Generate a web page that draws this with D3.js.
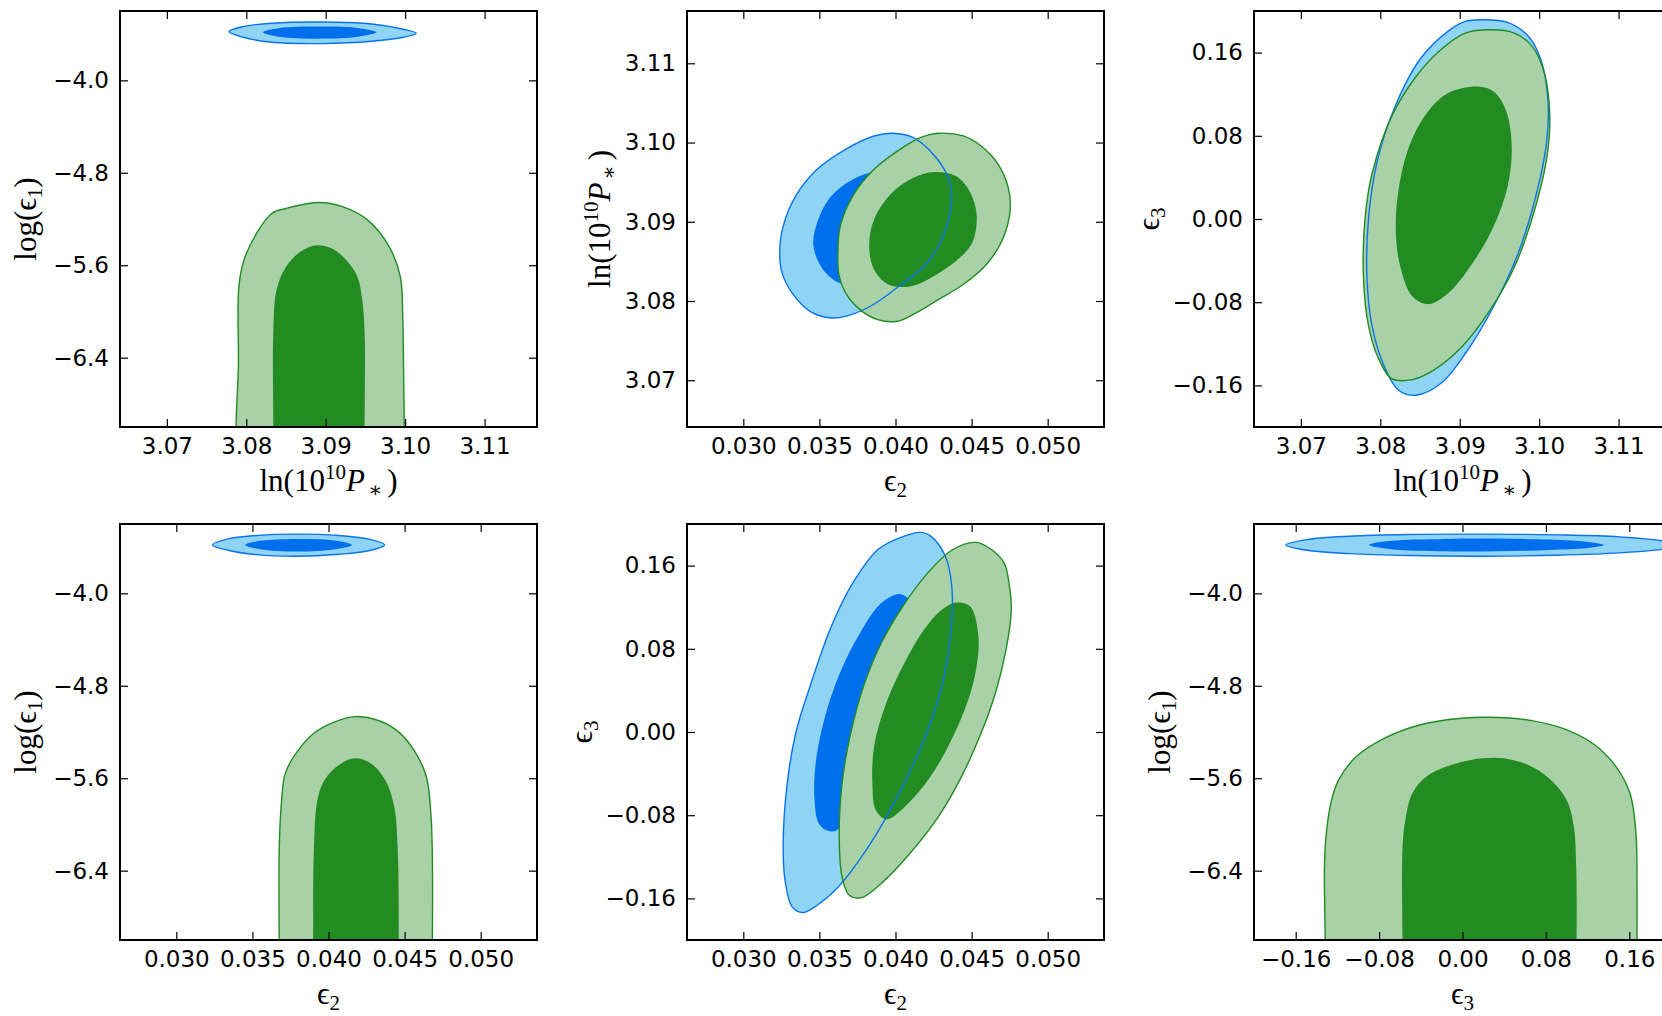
<!DOCTYPE html>
<html lang="en">
<head>
<meta charset="UTF-8" />
<title>2D marginal contours</title>
<script src="https://d3js.org/d3.v7.min.js"></script>
<style>
  body { margin: 0; background: #fff; }
  svg { display: block; overflow: hidden; background: #fff; }
  .tick text { font-family: "DejaVu Sans", sans-serif; font-size: 23px; fill: #000; }
  .tick line { stroke: #000; stroke-width: 1.2px; }
  .frame { fill: none; stroke: #000; stroke-width: 2px; }
  .label { font-family: "Liberation Serif", "DejaVu Serif", serif; font-size: 31px; fill: #000; }
</style>
</head>
<body>
<svg width="1662" height="1016"></svg>
<script>
// tick values
const lnPTicks = [3.07, 3.08, 3.09, 3.10, 3.11];
const eps2Ticks = [0.030, 0.035, 0.040, 0.045, 0.050];
const eps3Ticks = [-0.16, -0.08, 0.00, 0.08, 0.16];
const logEps1Ticks = [-6.4, -5.6, -4.8, -4.0];

// contours, [x, y] in data units
// panel 1: x = ln(1e10 P*), y = log(eps1)
const p1BlueOuter = [[3.0778,-3.578],[3.0796,-3.535],[3.0832,-3.506],[3.0895,-3.495],[3.0958,-3.512],[3.0998,-3.558],[3.1014,-3.593],[3.0998,-3.627],[3.0958,-3.662],[3.0895,-3.682],[3.0832,-3.671],[3.0796,-3.627]];
const p1BlueInner = [[3.0821,-3.584],[3.0841,-3.549],[3.0895,-3.535],[3.0940,-3.547],[3.0964,-3.584],[3.0940,-3.622],[3.0895,-3.639],[3.0841,-3.622]];
const p1GreenOuter = [[3.0787,-7.6],[3.0787,-7.0],[3.0790,-6.481],[3.0791,-5.759],[3.0800,-5.499],[3.0832,-5.152],[3.0850,-5.109],[3.0890,-5.057],[3.0922,-5.095],[3.0953,-5.210],[3.0980,-5.441],[3.0994,-5.701],[3.0997,-6.048],[3.0998,-6.481],[3.0999,-7.0],[3.0999,-7.6]];
const p1GreenInner = [[3.0834,-7.6],[3.0834,-7.0],[3.0834,-6.192],[3.0838,-5.817],[3.0850,-5.614],[3.0868,-5.484],[3.0888,-5.427],[3.0908,-5.456],[3.0926,-5.557],[3.0940,-5.701],[3.0946,-5.903],[3.0949,-6.192],[3.0949,-7.0],[3.0949,-7.6]];

// panel 2: x = eps2, y = ln(1e10 P*)
const p2BlueOuter = [[0.03239,3.08608],[0.03262,3.08945],[0.03344,3.09325],[0.03485,3.09662],[0.03672,3.09915],[0.03859,3.10083],[0.03977,3.10117],[0.04117,3.10062],[0.04258,3.09830],[0.04351,3.09535],[0.04368,3.09240],[0.04304,3.08777],[0.04187,3.08439],[0.04023,3.08187],[0.03836,3.07934],[0.03672,3.07807],[0.03578,3.07786],[0.03438,3.07870],[0.03321,3.08102],[0.03255,3.08355]];
const p2BlueInner = [[0.03461,3.08692],[0.03485,3.08987],[0.03578,3.09325],[0.03719,3.09535],[0.03859,3.09628],[0.04000,3.09620],[0.04117,3.09514],[0.04187,3.09282],[0.04164,3.08987],[0.04070,3.08734],[0.03930,3.08482],[0.03766,3.08271],[0.03649,3.08220],[0.03532,3.08376]];
const p2GreenOuter = [[0.03621,3.08566],[0.03637,3.08945],[0.03719,3.09325],[0.03859,3.09662],[0.04047,3.09936],[0.04164,3.10062],[0.04281,3.10117],[0.04445,3.10083],[0.04562,3.09957],[0.04667,3.09746],[0.04738,3.09451],[0.04754,3.09156],[0.04703,3.08777],[0.04597,3.08460],[0.04445,3.08208],[0.04281,3.08018],[0.04141,3.07858],[0.04012,3.07744],[0.03883,3.07765],[0.03766,3.07891],[0.03672,3.08102],[0.03630,3.08313]];
const p2GreenInner = [[0.03827,3.08692],[0.03859,3.09030],[0.03977,3.09367],[0.04117,3.09556],[0.04258,3.09628],[0.04398,3.09577],[0.04492,3.09367],[0.04534,3.09072],[0.04504,3.08734],[0.04422,3.08545],[0.04281,3.08347],[0.04105,3.08187],[0.03953,3.08208],[0.03859,3.08397]];

// panel 3: x = ln(1e10 P*), y = eps3
const p3BlueOuter = [[3.09292,0.19162],[3.09602,0.18905],[3.09867,0.17557],[3.10022,0.15310],[3.10111,0.11459],[3.10097,0.07607],[3.09978,0.02792],[3.09735,-0.03306],[3.09425,-0.08441],[3.09071,-0.12935],[3.08761,-0.15824],[3.08451,-0.16947],[3.08230,-0.16466],[3.08053,-0.14219],[3.07898,-0.10367],[3.07832,-0.05553],[3.07854,0.00225],[3.07965,0.05681],[3.08186,0.10817],[3.08496,0.15310],[3.08850,0.18038],[3.09071,0.19001]];
const p3GreenOuter = [[3.09381,0.18199],[3.09690,0.17878],[3.09912,0.16594],[3.10066,0.14026],[3.10133,0.10175],[3.10111,0.06644],[3.09978,0.01830],[3.09690,-0.04590],[3.09381,-0.08762],[3.09027,-0.12293],[3.08673,-0.14540],[3.08407,-0.15439],[3.08142,-0.15342],[3.07987,-0.13577],[3.07854,-0.10367],[3.07788,-0.05553],[3.07810,0.00225],[3.07898,0.04397],[3.08142,0.09854],[3.08451,0.13705],[3.08761,0.16273],[3.09071,0.17878]];
const p3GreenInner = [[3.09226,0.12742],[3.09425,0.12261],[3.09580,0.10496],[3.09655,0.06965],[3.09602,0.03113],[3.09425,-0.00738],[3.09159,-0.04269],[3.08850,-0.07158],[3.08606,-0.08185],[3.08407,-0.07479],[3.08252,-0.04590],[3.08195,-0.01059],[3.08230,0.02792],[3.08363,0.06965],[3.08584,0.10175],[3.08850,0.12100]];

// panel 4: x = eps2, y = log(eps1)
const p4BlueOuter = [[0.03239,-3.581],[0.03340,-3.529],[0.03528,-3.500],[0.03786,-3.488],[0.04068,-3.500],[0.04279,-3.535],[0.04369,-3.581],[0.04279,-3.627],[0.04068,-3.662],[0.03786,-3.679],[0.03528,-3.665],[0.03340,-3.627]];
const p4BlueInner = [[0.03453,-3.581],[0.03552,-3.546],[0.03786,-3.529],[0.04045,-3.543],[0.04153,-3.581],[0.04045,-3.618],[0.03786,-3.639],[0.03552,-3.618]];
const p4GreenOuter = [[0.03676,-7.6],[0.03676,-7.0],[0.03676,-6.223],[0.03692,-5.790],[0.03716,-5.558],[0.03786,-5.385],[0.03904,-5.211],[0.04045,-5.110],[0.04174,-5.067],[0.04303,-5.090],[0.04444,-5.182],[0.04561,-5.356],[0.04643,-5.587],[0.04674,-5.934],[0.04683,-6.368],[0.04683,-7.0],[0.04683,-7.6]];
const p4GreenInner = [[0.03899,-7.6],[0.03899,-7.0],[0.03904,-6.223],[0.03927,-5.790],[0.03974,-5.616],[0.04068,-5.486],[0.04174,-5.428],[0.04279,-5.472],[0.04373,-5.616],[0.04432,-5.847],[0.04455,-6.223],[0.04462,-7.0],[0.04462,-7.6]];

// panel 5: x = eps2, y = eps3
const p5BlueOuter = [[0.04164,0.19194],[0.04234,0.18809],[0.04328,0.16883],[0.04370,0.13994],[0.04363,0.09501],[0.04304,0.04365],[0.04187,-0.00770],[0.04023,-0.05906],[0.03836,-0.10720],[0.03625,-0.14893],[0.03485,-0.16658],[0.03391,-0.17364],[0.03321,-0.16819],[0.03274,-0.14251],[0.03262,-0.10720],[0.03286,-0.05264],[0.03344,-0.00128],[0.03438,0.04365],[0.03578,0.10142],[0.03719,0.14315],[0.03883,0.17525],[0.04023,0.18648]];
const p5BlueInner = [[0.04035,0.13256],[0.04117,0.12068],[0.04047,0.07896],[0.03953,0.03723],[0.03859,-0.00128],[0.03766,-0.04301],[0.03684,-0.07832],[0.03614,-0.09436],[0.03555,-0.09501],[0.03496,-0.08794],[0.03468,-0.06548],[0.03473,-0.03338],[0.03520,0.00514],[0.03625,0.05328],[0.03766,0.09501],[0.03906,0.12389]];
const p5GreenOuter = [[0.04527,0.18231],[0.04632,0.17525],[0.04714,0.16241],[0.04749,0.13994],[0.04761,0.11747],[0.04726,0.07896],[0.04656,0.03723],[0.04562,-0.00128],[0.04422,-0.04622],[0.04281,-0.08153],[0.04094,-0.11683],[0.03906,-0.14572],[0.03778,-0.15920],[0.03696,-0.15695],[0.03649,-0.13930],[0.03630,-0.09757],[0.03649,-0.04943],[0.03696,-0.00770],[0.03789,0.04365],[0.03906,0.08538],[0.04047,0.12068],[0.04211,0.15278],[0.04375,0.17525]];
const p5GreenInner = [[0.04398,0.12453],[0.04492,0.12068],[0.04543,0.09501],[0.04539,0.06933],[0.04492,0.03723],[0.04398,0.00193],[0.04258,-0.03659],[0.04105,-0.06548],[0.03941,-0.08409],[0.03871,-0.07511],[0.03848,-0.04943],[0.03859,-0.01412],[0.03930,0.02439],[0.04047,0.06291],[0.04187,0.09822],[0.04304,0.11747]];

// panel 6: x = eps3, y = log(eps1)
const p6BlueOuter = [[-0.1694,-3.581],[-0.1492,-3.535],[-0.1088,-3.506],[-0.0515,-3.491],[0.0192,-3.488],[0.0899,-3.494],[0.1506,-3.511],[0.1944,-3.549],[0.2112,-3.581],[0.1944,-3.616],[0.1506,-3.650],[0.0899,-3.670],[0.0192,-3.679],[-0.0515,-3.673],[-0.1088,-3.656],[-0.1492,-3.627]];
const p6BlueInner = [[-0.0896,-3.581],[-0.0684,-3.546],[-0.0179,-3.529],[0.0327,-3.526],[0.0832,-3.535],[0.1203,-3.555],[0.1354,-3.581],[0.1203,-3.607],[0.0832,-3.624],[0.0327,-3.636],[-0.0179,-3.636],[-0.0684,-3.618]];
const p6GreenOuter = [[-0.1317,-7.6],[-0.1317,-7.0],[-0.1324,-6.368],[-0.1307,-6.079],[-0.1256,-5.790],[-0.1189,-5.616],[-0.1021,-5.414],[-0.0751,-5.255],[-0.0414,-5.139],[-0.0010,-5.081],[0.0259,-5.073],[0.0664,-5.102],[0.1000,-5.182],[0.1270,-5.313],[0.1472,-5.500],[0.1607,-5.732],[0.1664,-6.079],[0.1674,-6.512],[0.1674,-7.0],[0.1674,-7.6]];
const p6GreenInner = [[-0.0576,-7.6],[-0.0576,-7.0],[-0.0576,-6.223],[-0.0549,-5.963],[-0.0482,-5.732],[-0.0347,-5.587],[-0.0111,-5.486],[0.0192,-5.428],[0.0394,-5.428],[0.0630,-5.486],[0.0832,-5.602],[0.1000,-5.790],[0.1068,-6.021],[0.1091,-6.368],[0.1095,-7.0],[0.1095,-7.6]];

const colors = {
  blue: { light: "#8fd3f5", dark: "#006fed", line: "#0a73ec" },
  green: { light: "#a8d1a8", dark: "#228b22", line: "#228b22" }
};

// parameter axes
const params = {
  lnP: { domain: [3.0641, 3.1166], ticks: lnPTicks, fmt: d3.format(".2f"),
    label: [{ t: "ln(10" }, { t: "10", sup: true }, { t: "P", it: true }, { t: "∗", sub: true, dx: 3 }, { t: ")", dx: 5 }] },
  eps2: { domain: [0.0263, 0.0537], ticks: eps2Ticks, fmt: d3.format(".3f"),
    label: [{ t: "ϵ" }, { t: "2", sub: true }] },
  eps3: { domain: [-0.2, 0.2], ticks: eps3Ticks, fmt: d3.format(".2f"),
    label: [{ t: "ϵ" }, { t: "3", sub: true }] },
  logEps1: { domain: [-7.0, -3.4], ticks: logEps1Ticks, fmt: d3.format(".1f"),
    label: [{ t: "log(ϵ" }, { t: "1", sub: true }, { t: ")" }] }
};

const colLeft = [120, 687, 1254];
const rowTop = [11, 524];
const W = 417, H = 416;

const panels = [
  { col: 0, row: 0, x: "lnP", y: "logEps1", ypad: 84,
    sets: [{ c: "blue", outer: p1BlueOuter, inner: p1BlueInner }, { c: "green", outer: p1GreenOuter, inner: p1GreenInner }] },
  { col: 1, row: 0, x: "eps2", y: "lnP", ypad: 77,
    sets: [{ c: "blue", outer: p2BlueOuter, inner: p2BlueInner }, { c: "green", outer: p2GreenOuter, inner: p2GreenInner }] },
  { col: 2, row: 0, x: "lnP", y: "eps3", ypad: 95,
    sets: [{ c: "blue", outer: p3BlueOuter, inner: null }, { c: "green", outer: p3GreenOuter, inner: p3GreenInner }] },
  { col: 0, row: 1, x: "eps2", y: "logEps1", ypad: 84,
    sets: [{ c: "blue", outer: p4BlueOuter, inner: p4BlueInner }, { c: "green", outer: p4GreenOuter, inner: p4GreenInner }] },
  { col: 1, row: 1, x: "eps2", y: "eps3", ypad: 95,
    sets: [{ c: "blue", outer: p5BlueOuter, inner: p5BlueInner }, { c: "green", outer: p5GreenOuter, inner: p5GreenInner }] },
  { col: 2, row: 1, x: "eps3", y: "logEps1", ypad: 84,
    sets: [{ c: "blue", outer: p6BlueOuter, inner: p6BlueInner }, { c: "green", outer: p6GreenOuter, inner: p6GreenInner }] }
];

const svg = d3.select("svg");

function richText(sel, parts) {
  let shift = 0;
  parts.forEach(p => {
    const target = p.sup ? -12 : p.sub ? 6 : 0;
    const t = sel.append("tspan").text(p.t).attr("dy", target - shift);
    shift = target;
    if (p.sup || p.sub) t.attr("font-size", "21px");
    if (p.it) t.attr("font-style", "italic");
    if (p.dx) t.attr("dx", p.dx);
  });
}

panels.forEach((p, i) => {
  const px = params[p.x], py = params[p.y];
  const x = d3.scaleLinear().domain(px.domain).range([0, W]);
  const y = d3.scaleLinear().domain(py.domain).range([H, 0]);
  const g = svg.append("g").attr("transform", `translate(${colLeft[p.col]},${rowTop[p.row]})`);

  g.append("clipPath").attr("id", "clip" + i)
    .append("rect").attr("width", W).attr("height", H);

  const line = d3.line().x(d => x(d[0])).y(d => y(d[1]))
    .curve(d3.curveCatmullRomClosed.alpha(0.5));

  const plot = g.append("g").attr("clip-path", `url(#clip${i})`);
  // fills first, then outer contour lines on top
  p.sets.forEach(s => {
    plot.append("path").attr("d", line(s.outer)).attr("fill", colors[s.c].light);
    if (s.inner) plot.append("path").attr("d", line(s.inner)).attr("fill", colors[s.c].dark);
  });
  p.sets.forEach(s => {
    plot.append("path").attr("d", line(s.outer)).attr("fill", "none")
      .attr("stroke", colors[s.c].line).attr("stroke-width", 1.4);
  });

  // axes with inward ticks on all sides
  g.append("g").attr("transform", `translate(0,${H})`)
    .call(d3.axisBottom(x).tickValues(px.ticks).tickFormat(px.fmt).tickSize(-8).tickPadding(11))
    .call(a => a.select(".domain").remove());
  g.append("g")
    .call(d3.axisTop(x).tickValues(px.ticks).tickFormat("").tickSize(-8))
    .call(a => a.select(".domain").remove());
  g.append("g")
    .call(d3.axisLeft(y).tickValues(py.ticks).tickFormat(py.fmt).tickSize(-8).tickPadding(11))
    .call(a => a.select(".domain").remove());
  g.append("g").attr("transform", `translate(${W},0)`)
    .call(d3.axisRight(y).tickValues(py.ticks).tickFormat("").tickSize(-8))
    .call(a => a.select(".domain").remove());
  g.selectAll(".tick text").attr("font-family", null).attr("font-size", null);

  g.append("rect").attr("class", "frame").attr("width", W).attr("height", H);

  // axis labels
  const xl = g.append("text").attr("class", "label")
    .attr("x", W / 2).attr("y", H + 64).attr("text-anchor", "middle");
  richText(xl, px.label);
  const yl = g.append("text").attr("class", "label")
    .attr("transform", `translate(${-p.ypad},${H / 2}) rotate(-90)`)
    .attr("text-anchor", "middle");
  richText(yl, py.label);
});
</script>
</body>
</html>
